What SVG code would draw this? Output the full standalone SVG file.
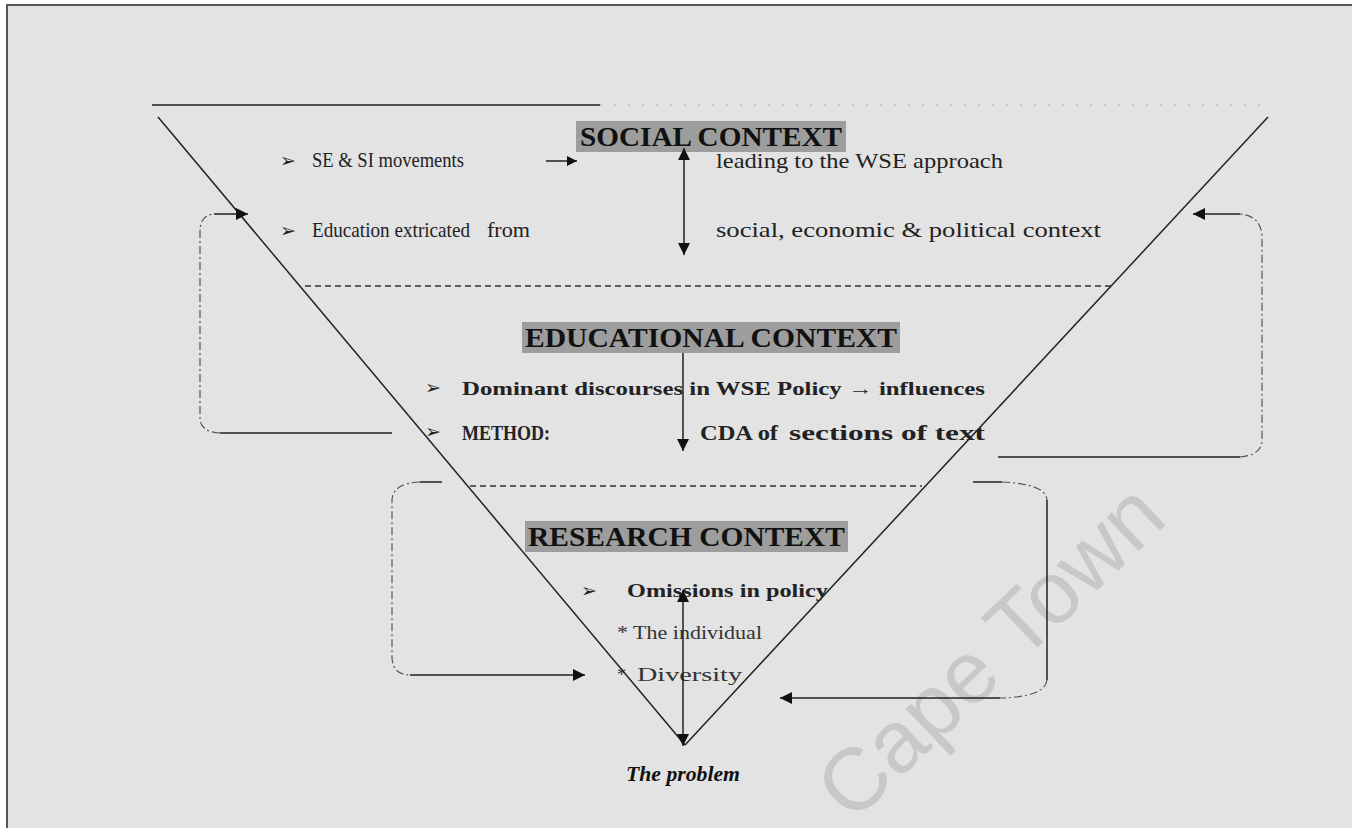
<svg xmlns="http://www.w3.org/2000/svg" width="1352" height="828" viewBox="0 0 1352 828">
<style>
.bg{fill:#e3e3e3}
.frame{stroke:#555;stroke-width:2;fill:none}
.ln{stroke:#222;stroke-width:1.5;fill:none}
.dash{stroke:#333;stroke-width:1.3;fill:none;stroke-dasharray:6 4}
.faint{stroke:#555;stroke-width:1.2;fill:none;stroke-dasharray:8 3 2 3}
.hl{fill:#9d9d9d}
.title{font-family:"Liberation Serif",serif;font-weight:bold;font-size:27px;fill:#111}
.reg{font-family:"Liberation Serif",serif;font-size:21px;fill:#222}
.bold{font-family:"Liberation Serif",serif;font-weight:bold;font-size:19px;fill:#222}
.big{font-family:"Liberation Serif",serif;font-weight:bold;font-size:21px;fill:#222}
.small{font-family:"Liberation Serif",serif;font-size:18px;fill:#333}
.bul{font-family:"DejaVu Sans",sans-serif;font-size:19px;fill:#222}
.wm{font-family:"Liberation Sans",sans-serif;font-size:88px;fill:#c8c8c8}
</style>
<defs>
<marker id="ah" viewBox="0 0 10 10" refX="10" refY="5" markerWidth="11" markerHeight="10" markerUnits="userSpaceOnUse" orient="auto-start-reverse">
<path d="M0,0 L10,5 L0,10 Z" fill="#111"/>
</marker>
<marker id="ahs" viewBox="0 0 10 10" refX="10" refY="5" markerWidth="13" markerHeight="12" markerUnits="userSpaceOnUse" orient="auto-start-reverse">
<path d="M0,0 L10,5 L0,10 Z" fill="#111"/>
</marker>
</defs>
<rect x="0" y="0" width="1352" height="828" fill="#ffffff"/>
<rect class="bg" x="7" y="5" width="1345" height="823"/>
<path class="frame" d="M7,828 L7,5 L1352,5"/>

<text class="wm" transform="translate(852,824) rotate(-43.6)">Cape Town</text>

<g id="funnel">
<line class="ln" x1="152" y1="105" x2="600" y2="105"/>
<line x1="600" y1="105" x2="1265" y2="105" stroke="#aaa" stroke-width="1" stroke-dasharray="2 12"/>
<line class="ln" x1="158" y1="117" x2="685" y2="745"/>
<line class="ln" x1="1268" y1="117" x2="685" y2="745"/>
<line class="dash" x1="305" y1="286" x2="1111" y2="286"/>
<line class="dash" x1="470" y1="486" x2="922" y2="486"/>
</g>

<g id="social">
<rect class="hl" x="576" y="121" width="270" height="31"/>
<text class="title" x="580" y="146" textLength="262" lengthAdjust="spacingAndGlyphs">SOCIAL CONTEXT</text>
<text class="bul" x="280" y="167">➢</text>
<text class="reg" x="312" y="167" textLength="152" lengthAdjust="spacingAndGlyphs">SE &amp; SI movements</text>
<text class="reg" x="716" y="168" textLength="287" lengthAdjust="spacingAndGlyphs">leading to the WSE approach</text>
<text class="bul" x="280" y="237">➢</text>
<text class="reg" x="312" y="237" textLength="158" lengthAdjust="spacingAndGlyphs">Education extricated</text>
<text class="reg" x="487" y="237" textLength="43" lengthAdjust="spacingAndGlyphs">from</text>
<text class="reg" x="716" y="237" textLength="385" lengthAdjust="spacingAndGlyphs">social, economic &amp; political context</text>
</g>

<g id="educational">
<rect class="hl" x="522" y="322" width="378" height="31"/>
<text class="title" x="525" y="347" textLength="372" lengthAdjust="spacingAndGlyphs">EDUCATIONAL CONTEXT</text>
<text class="bul" x="425" y="394">➢</text>
<text class="bold" x="462" y="395" textLength="523" lengthAdjust="spacingAndGlyphs">Dominant discourses in WSE Policy → influences</text>
<text class="bul" x="425" y="438">➢</text>
<text class="big" x="462" y="440" textLength="88" lengthAdjust="spacingAndGlyphs">METHOD:</text>
<text class="big" x="700" y="440" textLength="78" lengthAdjust="spacingAndGlyphs">CDA of</text>
<text class="big" x="789" y="440" textLength="196" lengthAdjust="spacingAndGlyphs">sections of text</text>
</g>

<g id="research">
<rect class="hl" x="525" y="521" width="323" height="31"/>
<text class="title" x="528" y="546" textLength="317" lengthAdjust="spacingAndGlyphs">RESEARCH CONTEXT</text>
<text class="bul" x="581" y="597">➢</text>
<text class="bold" x="627" y="597" textLength="201" lengthAdjust="spacingAndGlyphs">Omissions in policy</text>
<text class="small" x="617" y="639" textLength="145" lengthAdjust="spacingAndGlyphs">* The individual</text>
<text class="small" x="617" y="681">*</text>
<text class="small" x="637" y="681" textLength="105" lengthAdjust="spacingAndGlyphs">Diversity</text>
</g>

<g id="problem">
<text x="683" y="781" text-anchor="middle" font-family="'Liberation Serif',serif" font-weight="bold" font-style="italic" font-size="21" fill="#111" textLength="114" lengthAdjust="spacingAndGlyphs">The problem</text>
</g>

<g id="connectors">
<line class="ln" x1="546" y1="161" x2="577" y2="161" marker-end="url(#ah)"/>
<line class="ln" x1="684" y1="148" x2="684" y2="255" marker-start="url(#ahs)" marker-end="url(#ahs)"/>
<line class="ln" x1="683" y1="353" x2="683" y2="451" marker-end="url(#ahs)"/>
<line class="ln" x1="683" y1="590" x2="683" y2="746" marker-start="url(#ahs)" marker-end="url(#ahs)"/>

<!-- left loop 1 -->
<path class="ln" d="M392,433 L220,433"/>
<path class="faint" d="M220,433 Q200,432 200,418 L200,232 Q200,215 214,214"/>
<path class="ln" d="M214,214 L248,214" marker-end="url(#ahs)"/>

<!-- right loop 1 -->
<path class="ln" d="M998,457 L1240,457"/>
<path class="faint" d="M1240,457 Q1262,455 1262,440 L1262,238 Q1262,216 1240,214"/>
<path class="ln" d="M1240,214 L1193,214" marker-end="url(#ahs)"/>

<!-- left loop 2 -->
<path class="ln" d="M442,482 L420,482"/>
<path class="faint" d="M420,482 Q393,483 392,500 L392,658 Q393,675 410,675"/>
<path class="ln" d="M410,675 L585,675" marker-end="url(#ahs)"/>

<!-- right loop 2 -->
<path class="ln" d="M973,482 L1002,482"/>
<path class="faint" d="M1002,482 Q1046,484 1047,500"/>
<path class="ln" d="M1047,500 L1047,680"/>
<path class="faint" d="M1047,680 Q1045,697 1000,698"/>
<path class="ln" d="M1000,698 L780,698" marker-end="url(#ahs)"/>
</g>
</svg>
